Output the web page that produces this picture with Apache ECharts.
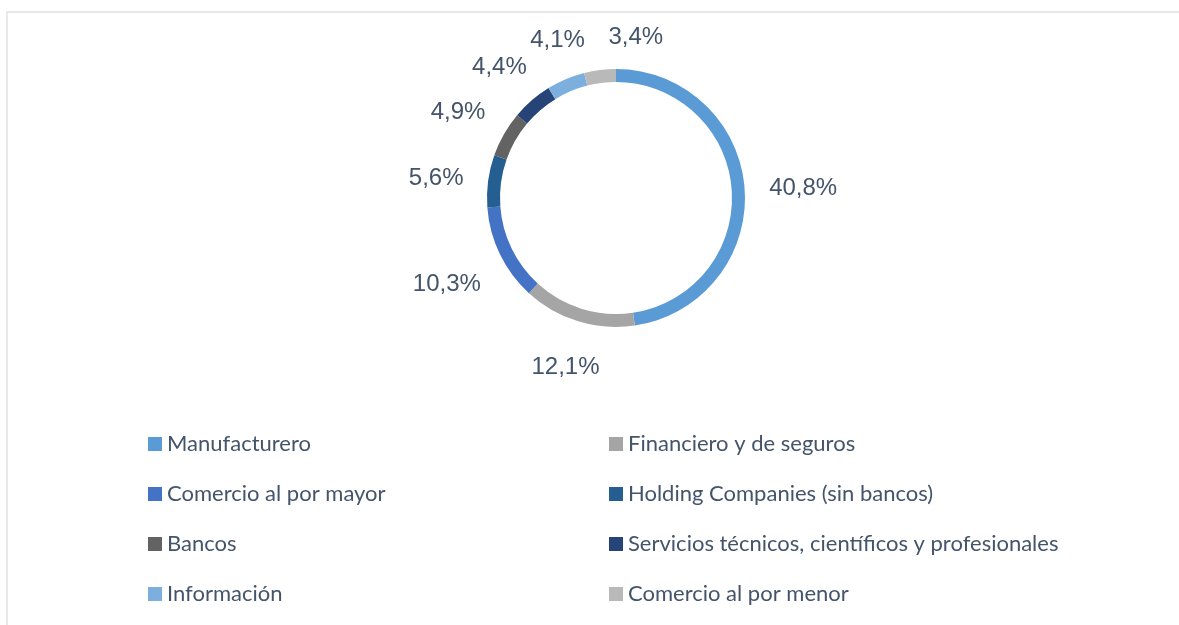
<!DOCTYPE html>
<html>
<head>
<meta charset="utf-8">
<script src="https://cdn.jsdelivr.net/npm/echarts@6/dist/echarts.min.js"></script>
<style>
  html, body { margin: 0; padding: 0; background: #fff; }
  #chart { width: 1179px; height: 625px; }
</style>
</head>
<body>
<div id="chart"></div>
<script>
// sectors, clockwise from 12 o'clock
const categories = [
  'Manufacturero',
  'Financiero y de seguros',
  'Comercio al por mayor',
  'Holding Companies (sin bancos)',
  'Bancos',
  'Servicios técnicos, científicos y profesionales',
  'Información',
  'Comercio al por menor'
];
const shares = [40.8, 12.1, 10.3, 5.6, 4.9, 4.4, 4.1, 3.4];
const colors = ['#5b9bd5', '#a5a5a5', '#4472c4', '#255e91', '#636363', '#264478', '#7cafdd', '#b9b9b9'];

const CX = 616, CY = 198, R_IN = 116, R_OUT = 129;
const LABEL_FONT = '24px "Liberation Sans", Arial, sans-serif';
const LABEL_GAP = 24;

function fmt(v) {
  return v.toFixed(1).replace('.', ',') + '%';
}

// where each outside label goes: out along the slice's mid angle,
// turned a bit further clockwise when it would sit on top of the previous one
const ctx = document.createElement('canvas').getContext('2d');
ctx.font = LABEL_FONT;
const total = shares.reduce((a, b) => a + b, 0);
const labelPos = [];
const placed = [];
let acc = 0;
shares.forEach((v, i) => {
  let ang = (acc + v / 2) / total * Math.PI * 2;
  acc += v;
  const w = ctx.measureText(fmt(v)).width, h = 20;
  let box;
  for (let k = 0; k < 90; k++) {
    const dx = Math.sin(ang), dy = -Math.cos(ang);
    const d = R_OUT + LABEL_GAP + Math.abs(dx) * w / 2 + Math.abs(dy) * h / 2;
    const x = CX + dx * d, y = CY + dy * d + 4;
    box = { x: x, y: y, x0: x - w / 2, x1: x + w / 2, y0: y - h / 2, y1: y + h / 2 };
    const hit = placed.some(p => box.x0 < p.x1 + 22 && box.x1 > p.x0 - 22 && box.y0 < p.y1 + 6 && box.y1 > p.y0 - 6);
    if (!hit) break;
    ang += Math.PI / 180;
  }
  placed.push(box);
  labelPos.push([box.x, box.y]);
});

const chart = echarts.init(document.getElementById('chart'));
chart.setOption({
  animation: false,
  color: colors,
  graphic: [{
    type: 'rect',
    shape: { x: 7, y: 12, width: 1300, height: 800 },
    style: { fill: 'none', stroke: '#dfe3e8', lineWidth: 1.5 },
    silent: true
  }],
  legend: {
    data: categories,
    left: 148,
    top: 433,
    width: 1000,
    padding: 0,
    orient: 'horizontal',
    icon: 'rect',
    itemWidth: 14,
    itemHeight: 14,
    itemGap: 28,
    selectedMode: false,
    textStyle: {
      fontFamily: 'Lato',
      fontSize: 22,
      color: '#44546a',
      width: 414,
      lineHeight: 22
    }
  },
  series: [{
    type: 'pie',
    center: [CX, CY],
    radius: [R_IN, R_OUT],
    startAngle: 90,
    clockwise: true,
    avoidLabelOverlap: false,
    itemStyle: { borderWidth: 0 },
    label: {
      show: true,
      position: 'outside',
      formatter: p => fmt(p.value),
      fontFamily: '"Liberation Sans", Arial, sans-serif',
      fontSize: 24,
      color: '#44546a'
    },
    labelLine: { show: false },
    labelLayout: p => ({
      x: labelPos[p.dataIndex][0],
      y: labelPos[p.dataIndex][1],
      align: 'center',
      verticalAlign: 'middle'
    }),
    emphasis: { disabled: true },
    data: categories.map((name, i) => ({ name: name, value: shares[i] }))
  }]
});
</script>
</body>
</html>
